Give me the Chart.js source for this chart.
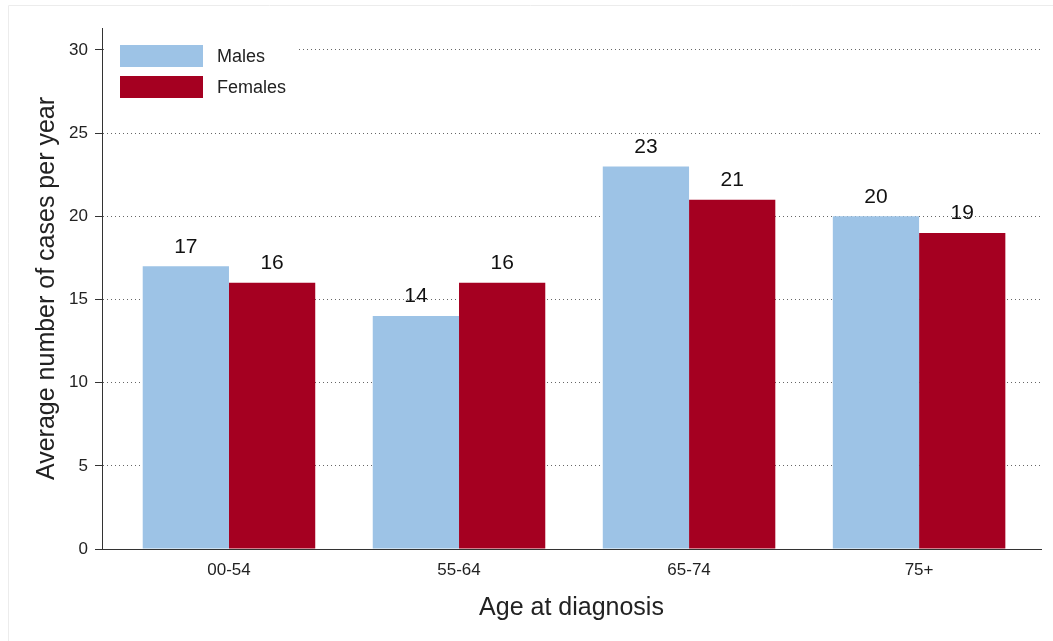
<!DOCTYPE html>
<html>
<head>
<meta charset="utf-8">
<script src="https://cdn.jsdelivr.net/npm/chart.js@4/dist/chart.umd.min.js"></script>
<style>
  html, body { margin: 0; padding: 0; background: #fff; }
  #wrap { width: 1053px; height: 641px; }
</style>
</head>
<body>
<div id="wrap"><canvas id="chart"></canvas></div>
<script>
const AGE_GROUPS = ["00-54", "55-64", "65-74", "75+"];
const MALES = [17, 14, 23, 20];
const FEMALES = [16, 16, 21, 19];
const Y_TICKS = [0, 5, 10, 15, 20, 25, 30];

const BLUE = "#9dc3e6";
const RED = "#a50021";
const FONT = "'Liberation Sans', Arial, Helvetica, sans-serif";

// inline legend, white box covers the top gridline like the original
const inlineLegend = {
  id: "inlineLegend",
  afterDatasetsDraw(chart) {
    const ctx = chart.ctx;
    ctx.save();
    ctx.fillStyle = "#fff";
    ctx.fillRect(104, 30, 194, 74);
    const items = [["Males", BLUE], ["Females", RED]];
    items.forEach(([label, color], i) => {
      const y = 45 + i * 31;
      ctx.fillStyle = color;
      ctx.fillRect(120, y, 83, 22);
      ctx.fillStyle = "#222";
      ctx.font = "18px " + FONT;
      ctx.textBaseline = "middle";
      ctx.textAlign = "left";
      ctx.fillText(label, 217, y + 12);
    });
    ctx.restore();
  },
};

const valueLabels = {
  id: "valueLabels",
  afterDatasetsDraw(chart) {
    const ctx = chart.ctx;
    ctx.save();
    ctx.font = "21px " + FONT;
    ctx.fillStyle = "#111";
    ctx.textAlign = "center";
    ctx.textBaseline = "bottom";
    chart.data.datasets.forEach((ds, di) => {
      chart.getDatasetMeta(di).data.forEach((bar, i) => {
        ctx.fillText(String(ds.data[i].y), bar.x, bar.y - 9);
      });
    });
    ctx.restore();
  },
};

const frame = {
  id: "frame",
  beforeDraw(chart) {
    const ctx = chart.ctx;
    ctx.save();
    ctx.strokeStyle = "#ececec";
    ctx.lineWidth = 1;
    ctx.beginPath();
    ctx.moveTo(8.5, 641);
    ctx.lineTo(8.5, 5.5);
    ctx.lineTo(1053, 5.5);
    ctx.stroke();
    ctx.restore();
  },
};

new Chart(document.getElementById("chart"), {
  type: "bar",
  data: {
    datasets: [
      {
        label: "Males",
        data: MALES.map((v, i) => ({ x: i, y: v })),
        backgroundColor: BLUE,
        borderWidth: 0,
      },
      {
        label: "Females",
        data: FEMALES.map((v, i) => ({ x: i, y: v })),
        backgroundColor: RED,
        borderWidth: 0,
      },
    ],
  },
  options: {
    responsive: true,
    maintainAspectRatio: false,
    animation: false,
    categoryPercentage: 0.75,
    barPercentage: 1,
    layout: { padding: { left: 28, right: 12, top: 28, bottom: 14 } },
    plugins: {
      legend: { display: false },
      tooltip: { enabled: false },
    },
    scales: {
      x: {
        type: "linear",
        offset: false,
        min: -0.552,
        max: 3.53,
        afterBuildTicks: (s) => { s.ticks = AGE_GROUPS.map((_, i) => ({ value: i })); },
        afterFit: (s) => { s.height = 78; },
        grid: { display: false, drawTicks: false, tickLength: 0, offset: false },
        border: { display: true, color: "#333", width: 1 },
        ticks: {
          autoSkip: false,
          maxRotation: 0,
          padding: 11,
          color: "#222",
          font: { family: FONT, size: 17 },
          callback: (v) => AGE_GROUPS[v],
        },
        title: {
          display: true,
          text: "Age at diagnosis",
          color: "#222",
          font: { family: FONT, size: 25 },
          padding: { top: 4, bottom: 4 },
        },
      },
      y: {
        min: 0,
        max: 31.32,
        afterBuildTicks: (s) => { s.ticks = Y_TICKS.map((value) => ({ value })); },
        afterFit: (s) => { s.width = 74; },
        grid: {
          color: "#666",
          lineWidth: 1,
          drawTicks: true,
          tickLength: 7,
          tickColor: "#333",
          tickBorderDash: [],
        },
        border: { display: true, color: "#333", width: 1, dash: [1, 3] },
        ticks: {
          padding: 7,
          color: "#222",
          font: { family: FONT, size: 17 },
        },
        title: {
          display: true,
          text: "Average number of cases per year",
          color: "#222",
          font: { family: FONT, size: 25 },
          padding: { top: 4, bottom: 4 },
        },
      },
    },
  },
  plugins: [frame, inlineLegend, valueLabels],
});
</script>
</body>
</html>
